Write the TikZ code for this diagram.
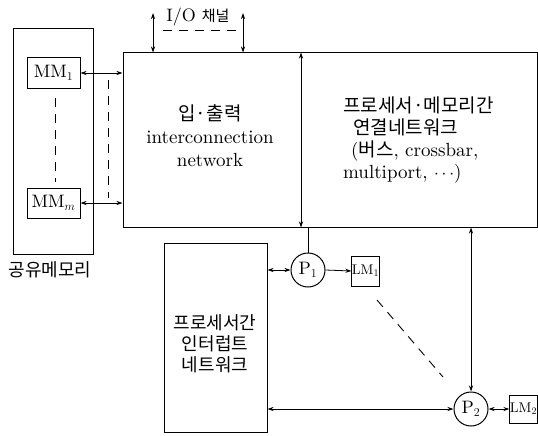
\documentclass[tikz,border=0pt]{standalone}
\usepackage{fontspec}
\setmainfont{lmroman10-regular.otf}[BoldFont=lmroman10-bold.otf,ItalicFont=lmroman10-italic.otf]
\newfontfamily\kr{Noto Sans CJK KR}
\usetikzlibrary{arrows.meta}

\begin{document}
\begin{tikzpicture}[x=1pt,y=-1pt,
	box/.style={ draw, line width=1pt, inner sep=0pt },
	mem/.style={ draw, line width=1pt, inner sep=0pt, font=\fontsize{18}{20}\selectfont },
	proc/.style={ circle, draw, line width=1pt, inner sep=0pt, minimum size=34pt, font=\fontsize{18}{20}\selectfont },
	txt/.style={ inner sep=0pt, align=center, font=\fontsize{19}{22}\selectfont },
	link/.style={ line width=0.8pt, {Stealth[length=6pt,width=4pt]}-{Stealth[length=6pt,width=4pt]} },
	linkr/.style={ line width=0.8pt, -{Stealth[length=6pt,width=4pt]} },
	gap/.style={ line width=0.9pt, dash pattern=on 9pt off 7pt }
]
\clip (0,0) rectangle (538,436);
\useasboundingbox (0,0) rectangle (538,436);

% boxes
\node at (53,141.5) (shm) [box,minimum width=80pt,minimum height=225pt] {};
\node at (53.5,73) (MM1) [mem,minimum width=53pt,minimum height=30pt] {MM$_1$};
\node at (53.5,203) (MMm) [mem,minimum width=53pt,minimum height=30pt] {MM$_m$};
\node at (330,140) (net) [box,minimum width=414pt,minimum height=174pt] {};
\node at (215.5,337.5) (irq) [box,minimum width=103pt,minimum height=189pt] {};
\node at (308,270) (P1) [proc] {P$_1$};
\node at (471,409) (P2) [proc] {P$_2$};
\node at (365.5,271) (LM1) [mem,minimum width=27pt,minimum height=30pt,font=\fontsize{14}{16}\selectfont] {LM$_1$};
\node at (523.5,409) (LM2) [mem,minimum width=26pt,minimum height=28pt,font=\fontsize{14}{16}\selectfont] {LM$_2$};

% texts
\node at (50,270) (shmlabel) [txt,font=\fontsize{18}{22}\selectfont] {\kr 공유메모리};
\node at (198,17) (iolabel) [txt,font=\fontsize{18}{20}\selectfont] {I/O {\kr\fontsize{15}{17}\selectfont 채널}};
\node at (210,136) (iotext) [txt,font=\fontsize{19}{23}\selectfont] {{\kr 입·출력}\\interconnection\\network};
\node at (343,97) (pmtext) [txt,anchor=north west,align=left] {{\kr 프로세서·메모리간}\\\hspace{10pt}{\kr 연결네트워크}\\\hspace{8pt}({\kr 버스}, crossbar,\\multiport, $\cdots$)};
\node at (215,344) (irqtext) [txt,font=\fontsize{18}{21}\selectfont] {\kr 프로세서간\\\kr 인터럽트\\\kr 네트워크};

% free ends
\coordinate (io1) at (153,13);
\coordinate (io2) at (243,13);
\coordinate (div) at (301,0);
\coordinate (d1a) at (55,98);
\coordinate (d1b) at (55,182);
\coordinate (d2a) at (108,80);
\coordinate (d2b) at (108,198);
\coordinate (d3a) at (163,30);
\coordinate (d3b) at (237,30);
\coordinate (d4a) at (377,300);
\coordinate (d4b) at (443,377);

% connectors
\draw [link] (io1) to (io1 |- net.north);
\draw [link] (io2) to (io2 |- net.north);
\draw [link] (div |- net.north) to (div |- net.south);
\draw [link] (MM1.east) to (MM1.east -| net.west);
\draw [link] (MMm.east) to (MMm.east -| net.west);
\draw [line width=0.8pt] (P1.north) to (P1 |- net.south);
\draw [link] (P1.west) to (P1.west -| irq.east);
\draw [linkr] (P1.east) to (LM1.west);
\draw [link] (P2 |- net.south) to (P2.north);
\draw [link] (P2.west) to (P2.west -| irq.east);
\draw [link] (P2.east) to (LM2.west);

% dashed gaps
\draw [gap] (d1a) to (d1b);
\draw [gap] (d2a) to (d2b);
\draw [gap] (d3a) to (d3b);
\draw [gap] (d4a) to (d4b);

\end{tikzpicture}
\end{document}
